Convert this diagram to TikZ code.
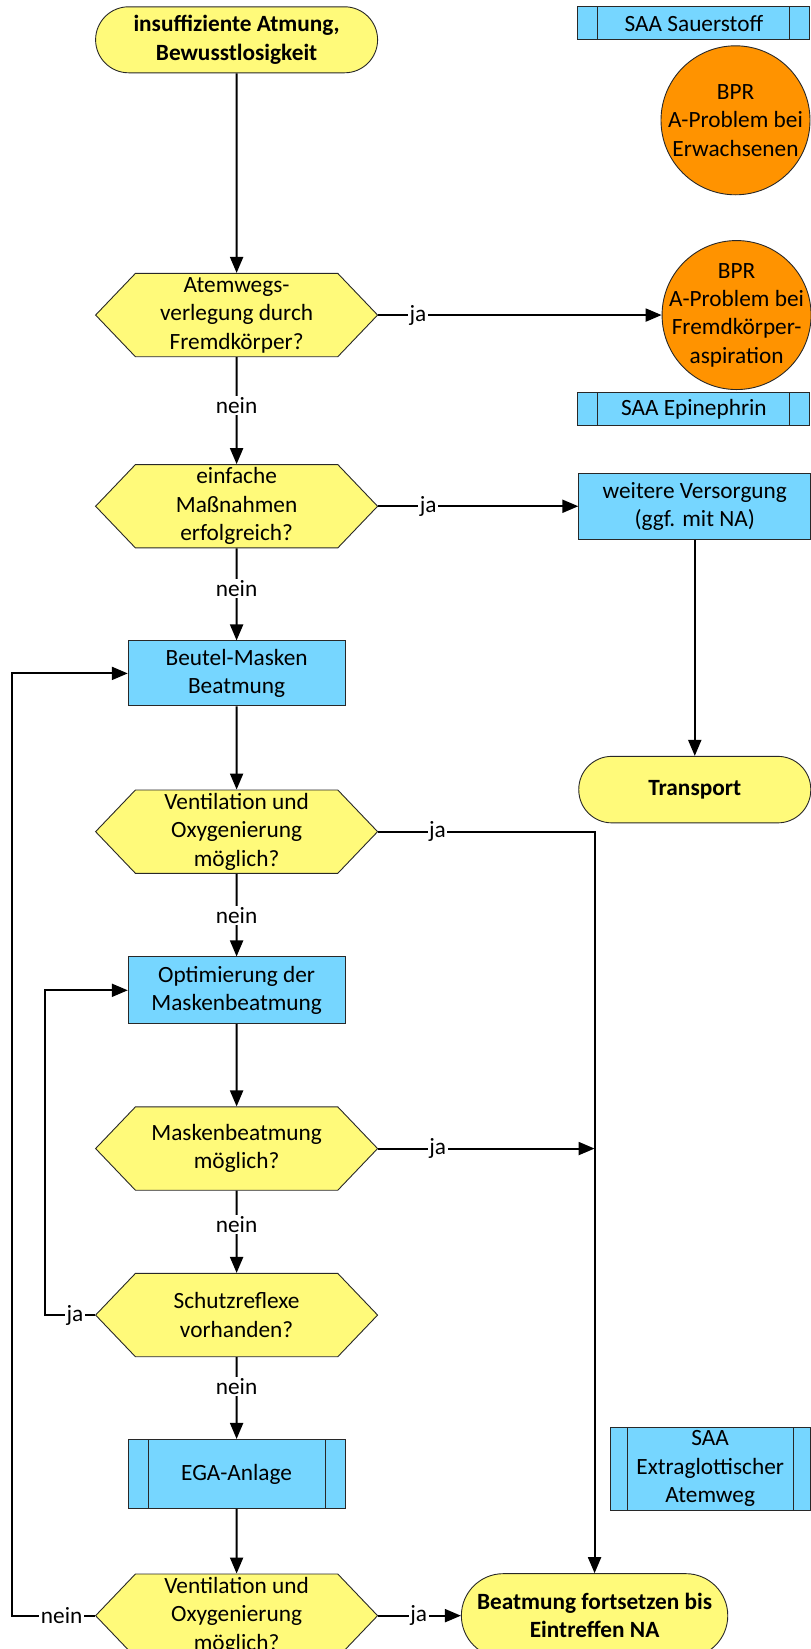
\documentclass[tikz,border=0pt]{standalone}
\usepackage{fontspec}
\setmainfont{Carlito}
\usepackage{xcolor}
\usetikzlibrary{positioning}
\usetikzlibrary{arrows.meta}
\usetikzlibrary{shapes.symbols}
\definecolor{flowyellow}{RGB}{255,250,122}
\definecolor{flowblue}{RGB}{118,214,255}
\definecolor{floworange}{RGB}{255,147,0}
\definecolor{linegray}{RGB}{40,40,40}

\begin{document}
\begin{tikzpicture}[x=1pt, y=-1pt,
    txt/.style={font=\fontsize{23.3}{28.4}\selectfont, align=center},
    term/.style={txt, font=\fontsize{23.3}{28.4}\selectfont\bfseries, draw=linegray, line width=0.9pt, fill=flowyellow, rounded corners=33pt, minimum width=282pt, minimum height=66pt, inner sep=1pt},
    dec/.style={txt, shape=signal, signal to=east and west, signal pointer angle=92.6, draw=linegray, line width=0.9pt, fill=flowyellow, minimum width=282pt, minimum height=83.3pt, inner xsep=2pt, inner ysep=1pt},
    proc/.style={txt, draw=linegray, line width=0.9pt, fill=flowblue, minimum width=216.7pt, minimum height=65pt, inner sep=1pt},
    sub/.style={proc, path picture={
        \path[draw=linegray, line width=0.9pt] ([xshift=#1]path picture bounding box.north west) -- ([xshift=#1]path picture bounding box.south west)
            ([xshift=-#1]path picture bounding box.north east) -- ([xshift=-#1]path picture bounding box.south east);}},
    sub/.default=20pt,
    bpr/.style={txt, circle, draw=linegray, line width=0.9pt, fill=floworange, minimum size=149pt, inner sep=-10pt},
    arr/.style={line width=2pt, -{Triangle[length=16pt, width=13pt]}},
    lbl/.style={txt, fill=white, inner sep=1.5pt}
]
    \path[use as bounding box, fill=white] (0,0) rectangle (811,1649);

    \node[term] (start) at (236.6,39.8) {insuffiziente Atmung,\\Bewusstlosigkeit};
    \node[dec, below = 199.7pt of start] (d1) {Atemwegs-\\verlegung durch\\Fremdkörper?};
    \node[dec, below = 107pt of d1] (d2) {einfache\\Maßnahmen\\erfolgreich?};
    \node[proc, below = 92.1pt of d2] (bm) {Beutel-Masken\\Beatmung};
    \node[dec, below = 83.2pt of bm] (d3) {Ventilation und\\Oxygenierung\\möglich?};
    \node[proc, below = 82.7pt of d3, minimum height=66.8pt] (opt) {Optimierung der\\Maskenbeatmung};
    \node[dec, below = 82.3pt of opt] (d4) {Maskenbeatmung\\möglich?};
    \node[dec, below = 82.3pt of d4] (d5) {Schutzreflexe\\vorhanden?};
    \node[sub, below = 81.8pt of d5, minimum height=69pt] (ega) {EGA-Anlage};
    \node[dec, below = 64.7pt of ega] (d6) {Ventilation und\\Oxygenierung\\möglich?};

    \node[sub, minimum width=232pt, minimum height=33pt] (saa1) at (693.9,23.3) {SAA Sauerstoff};
    \node[bpr] (bpr1) at (735.5,120.3) {BPR\\A-Problem bei\\Erwachsenen};
    \node[bpr, right = 283.4pt of d1] (bpr2) {BPR\\A-Problem bei\\Fremdkörper-\\aspiration};
    \node[sub, minimum width=232pt, minimum height=33pt] (saa2) at (693.9,409.1) {SAA Epinephrin};
    \node[proc, right = 200.1pt of d2, minimum width=232pt, minimum height=66pt] (wv) {weitere Versorgung\\(ggf. mit NA)};
    \node[term, below = 216.2pt of wv, minimum width=232pt, minimum height=66.5pt] (tr) {Transport};
    \node[sub=17pt, minimum width=199.7pt, minimum height=83pt] (saa3) at (710.2,1468.6) {SAA\\Extraglottischer\\Atemweg};
    \node[term, right = 82.7pt of d6, minimum width=266.4pt, minimum height=84pt, rounded corners=42pt] (fin) {Beatmung fortsetzen bis\\Eintreffen NA};

    \path[draw, arr] (start) -- (d1);
    \path[draw, arr] (d1.east) -- node[lbl, pos=0.14] {ja} (bpr2.west);
    \path[draw, arr] (d1) -- node[lbl, pos=0.45] {nein} (d2);
    \path[draw, arr] (d2.east) -- node[lbl, pos=0.25] {ja} (wv.west);
    \path[draw, arr] (d2) -- node[lbl, pos=0.44] {nein} (bm);
    \path[draw, arr] (wv) -- (tr);
    \path[draw, arr] (bm) -- (d3);
    \path[draw, arr] (d3.east) -| node[lbl, pos=0.137] {ja} (fin.north);
    \path[draw, arr] (d3) -- node[lbl, pos=0.5] {nein} (opt);
    \path[draw, arr] (opt) -- (d4);
    \path[draw, arr] (d4.east) -- node[lbl, pos=0.275] {ja} (d4.east -| fin.north);
    \path[draw, arr] (d4) -- node[lbl, pos=0.41] {nein} (d5);
    \path[draw, arr] (d5.west) -- node[lbl, pos=0.4] {ja} ++(-50.2,0) |- (opt.west);
    \path[draw, arr] (d5) -- node[lbl, pos=0.36] {nein} (ega);
    \path[draw, arr] (ega) -- (d6);
    \path[draw, arr] (d6.west) -- node[lbl, pos=0.4] {nein} ++(-83.3,0) |- (bm.west);
    \path[draw, arr] (d6.east) -- node[lbl, pos=0.49] {ja} (fin.west);
\end{tikzpicture}
\end{document}
